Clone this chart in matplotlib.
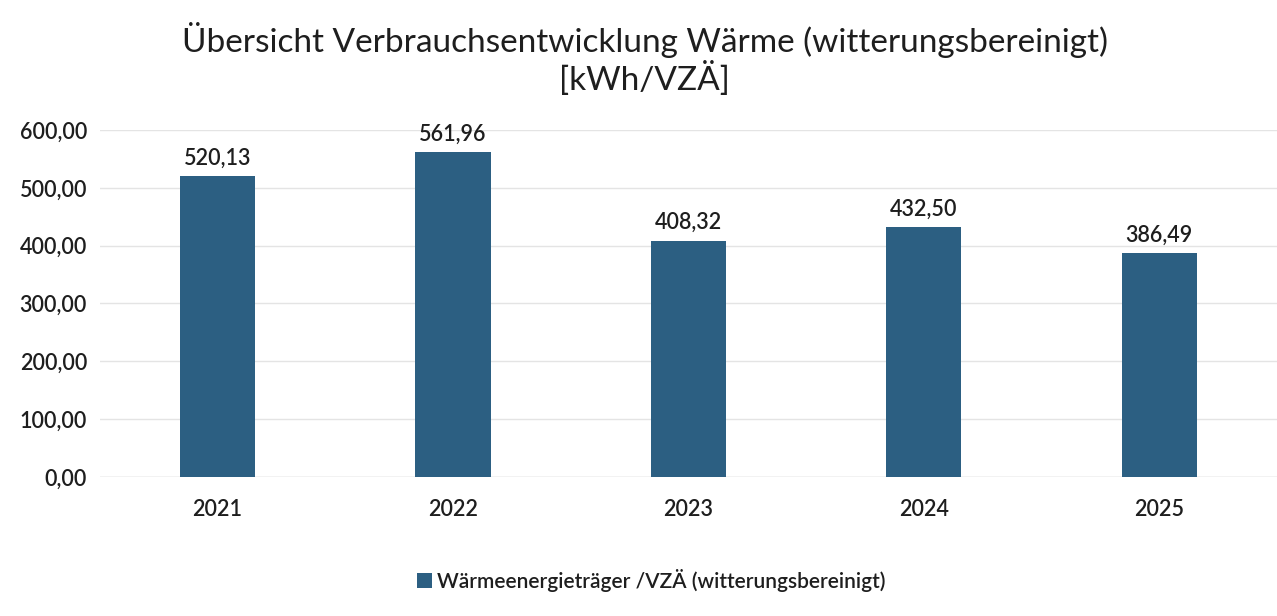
import numpy as np
import matplotlib.pyplot as plt

# === Dati ===
years = ["2021", "2022", "2023", "2024", "2025"]
values = [520.13, 561.96, 408.32, 432.50, 386.49]
labels = ["520,13", "561,96", "408,32", "432,50", "386,49"]
yticks = [0, 100, 200, 300, 400, 500, 600]

plt.rcParams['font.family'] = ['Lato', 'DejaVu Sans']

fig = plt.figure(figsize=(12.77, 6.16), dpi=100)
ax = fig.add_axes([0.078, 0.226, 0.922, 0.563])

bar_color = "#2C5F82"
txt_color = "#1e1e1e"
x = np.arange(len(years))
ax.bar(x, values, width=0.32, color=bar_color, zorder=3,
       label="Wärmeenergieträger /VZÄ (witterungsbereinigt)")

for xi, v, lab in zip(x, values, labels):
    ax.text(xi, v + 13, lab, ha="center", va="bottom", fontsize=15.5,
            fontweight="semibold", color=txt_color)

ax.set_xlim(-0.5, len(years) - 0.5)
ax.set_ylim(0, 600)
ax.set_yticks(yticks)
ax.set_yticklabels([f"{t:.2f}".replace(".", ",") for t in yticks], fontsize=15.5,
                   fontweight="semibold", color=txt_color)
ax.set_xticks(x)
ax.set_xticklabels(years, fontsize=15.5, fontweight="semibold", color=txt_color)
ax.tick_params(axis="both", length=0)
ax.tick_params(axis="x", pad=16)
ax.tick_params(axis="y", pad=9)
ax.grid(axis="y", color="#e4e4e4", linewidth=1, zorder=0)
for s in ax.spines.values():
    s.set_visible(False)
ax.axhline(0, color="#d9d9d9", linewidth=1, zorder=2)

fig.text(0.505, 0.935, "Übersicht Verbrauchsentwicklung Wärme (witterungsbereinigt)",
         ha="center", va="center", fontsize=24, color=txt_color)
fig.text(0.505, 0.873, "[kWh/VZÄ]", ha="center", va="center", fontsize=24, color=txt_color)

leg = fig.legend(loc="center", bbox_to_anchor=(0.51, 0.058), frameon=False,
                 prop={"size": 15, "weight": "semibold"},
                 handlelength=0.75, handleheight=0.75, handletextpad=0.25)
for t in leg.get_texts():
    t.set_color(txt_color)

fig.savefig("out.png", dpi=100)
